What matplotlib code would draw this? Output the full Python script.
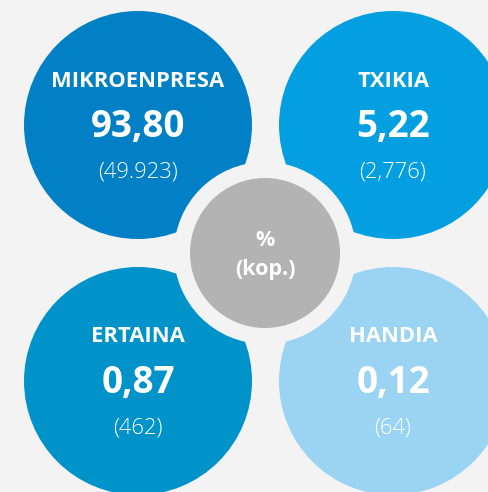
import matplotlib.pyplot as plt
from matplotlib.patches import Circle

labels = ['MIKROENPRESA', 'TXIKIA', 'ERTAINA', 'HANDIA']
percents = ['93,80', '5,22', '0,87', '0,12']
counts = ['(49.923)', '(2,776)', '(462)', '(64)']
colors = ['#0280c6', '#039fe0', '#0093c9', '#9bd3f3']
center_text = ['%', '(kop.)']

bg = '#f3f3f3'
plt.rcParams['font.family'] = ['Open Sans', 'DejaVu Sans']

fig = plt.figure(figsize=(4.89, 4.92), dpi=100, facecolor=bg)
ax = fig.add_axes([0, 0, 1, 1])
ax.set_xlim(0, 489)
ax.set_ylim(492, 0)
ax.set_aspect('equal')
ax.axis('off')

# circle centres (pixels), radius
pos = [(138, 125), (393, 125), (138, 381), (393, 381)]
r = 114

for (cx, cy), lab, pct, cnt, col in zip(pos, labels, percents, counts, colors):
	ax.add_patch(Circle((cx, cy), r, color=col, lw=0))
	ax.text(cx, cy - 44, lab, color='white', fontsize=15.8, fontweight='bold',
		ha='center', va='center')
	ax.text(cx, cy + 2, pct, color='white', fontsize=26.5, fontweight='bold',
		ha='center', va='center')
	ax.text(cx, cy + 47, cnt, color='white', fontsize=15.8, fontweight='light',
		ha='center', va='center')

# centre ring + grey circle
ax.add_patch(Circle((265, 253), 91, color=bg, lw=0))
ax.add_patch(Circle((265, 253), 75, color='#b3b3b3', lw=0))
ax.text(265, 240, center_text[0], color='white', fontsize=15.5, fontweight='bold',
	ha='center', va='center')
ax.text(265, 269, center_text[1], color='white', fontsize=15.5, fontweight='bold',
	ha='center', va='center')

plt.savefig('out.png', dpi=100, facecolor=bg)
